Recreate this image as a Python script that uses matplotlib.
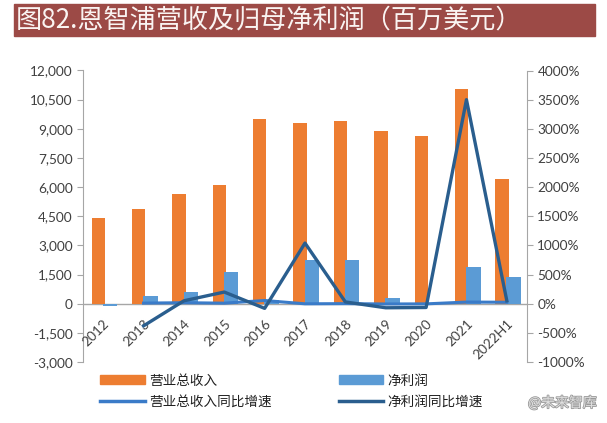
import numpy as np
import matplotlib
matplotlib.use("Agg")
import matplotlib.pyplot as plt
import matplotlib.patheffects as pe
from matplotlib.patches import Rectangle, Patch
from matplotlib.lines import Line2D
from matplotlib.ticker import FuncFormatter, MultipleLocator

plt.rcParams['font.family'] = ['Lato', 'Noto Sans CJK SC', 'DejaVu Sans']

# data (millions USD)
years = ['2012', '2013', '2014', '2015', '2016', '2017', '2018', '2019', '2020', '2021', '2022H1']
revenue = [4400, 4850, 5650, 6120, 9500, 9280, 9410, 8900, 8630, 11060, 6440]
net_profit = [-100, 400, 580, 1640, 200, 2260, 2260, 290, 50, 1910, 1390]
# growth rates (%), first year has none
rev_growth = [np.nan, 10, 17, 9, 55, -2, 1, -5, -3, 28, 25]
np_growth = [np.nan, -380, 50, 200, -80, 1040, 30, -70, -65, 3500, 50]

c_rev = '#ED7D31'
c_np = '#5B9BD5'
c_rev_g = '#3A7BC8'
c_np_g = '#2A5E8E'
txt = '#404040'
axc = '#A6A6A6'

fig = plt.figure(figsize=(6.07, 4.23), dpi=100)
fig.patch.set_facecolor('white')

# title banner
fig.patches.append(Rectangle((14/607, 1 - 36/423), 581/607, 32/423,
                             transform=fig.transFigure, color='#9C4A46', zorder=0))
fig.text(16/607, 1 - 20/423, '图82.恩智浦营收及归母净利润（百万美元）',
         family=['Noto Sans CJK SC'], fontsize=18.8, color='#FAF4F2',
         va='center', ha='left')

ax = fig.add_axes([83/607, 61/423, 444/607, 291.5/423])
x = np.arange(len(years))

ax.bar(x - 0.12, revenue, width=0.33, color=c_rev, zorder=2)
ax.bar(x + 0.17, net_profit, width=0.36, color=c_np, zorder=3)

ax.set_xlim(-0.5, len(years) - 0.5)
ax.set_ylim(-3000, 12000)
ax.yaxis.set_major_locator(MultipleLocator(1500))
ax.yaxis.set_major_formatter(FuncFormatter(lambda v, p: f'{int(v):,}'))
ax.axhline(0, color=axc, lw=1, zorder=1)
ax.set_xticks([])
for s in ['top', 'bottom', 'right']:
    ax.spines[s].set_visible(False)
ax.spines['left'].set_color(axc)
ax.tick_params(axis='y', colors=axc, labelcolor=txt, labelsize=9.8, length=4)

for i, lab in enumerate(years):
    ax.annotate(lab, xy=(i, 0), xytext=(6, -10), textcoords='offset points',
                rotation=45, ha='right', va='top', fontsize=9.8, color=txt)

ax2 = ax.twinx()
ax2.plot(x, rev_growth, color=c_rev_g, lw=2.2, zorder=4)
ax2.plot(x, np_growth, color=c_np_g, lw=2.4, zorder=5)
ax2.set_ylim(-1000, 4000)
ax2.yaxis.set_major_locator(MultipleLocator(500))
ax2.yaxis.set_major_formatter(FuncFormatter(lambda v, p: f'{int(v)}%'))
for s in ['top', 'bottom', 'left']:
    ax2.spines[s].set_visible(False)
ax2.spines['right'].set_color(axc)
ax2.tick_params(axis='y', colors=axc, labelcolor=txt, labelsize=9.8, length=4)

handles = [Patch(color=c_rev), Line2D([], [], color=c_rev_g, lw=2.5),
           Patch(color=c_np), Line2D([], [], color=c_np_g, lw=2.5)]
labels = ['营业总收入', '营业总收入同比增速', '净利润', '净利润同比增速']
fig.legend(handles, labels, ncol=2, loc='center left',
           bbox_to_anchor=(88/607, 1 - 391/423), frameon=False,
           prop={'family': ['Noto Sans CJK SC'], 'size': 9.8},
           handlelength=3.3, handleheight=0.6, handletextpad=0.3,
           columnspacing=4.9, labelspacing=0.5, labelcolor='#202020')

fig.text(528/607, 1 - 403/423, '@未来智库', family=['Noto Sans CJK SC'],
         fontsize=10, color='#E0E0E0', va='center', ha='left',
         path_effects=[pe.withStroke(linewidth=1.2, foreground='#9A9A9A')])

fig.savefig('out.png', dpi=100)
